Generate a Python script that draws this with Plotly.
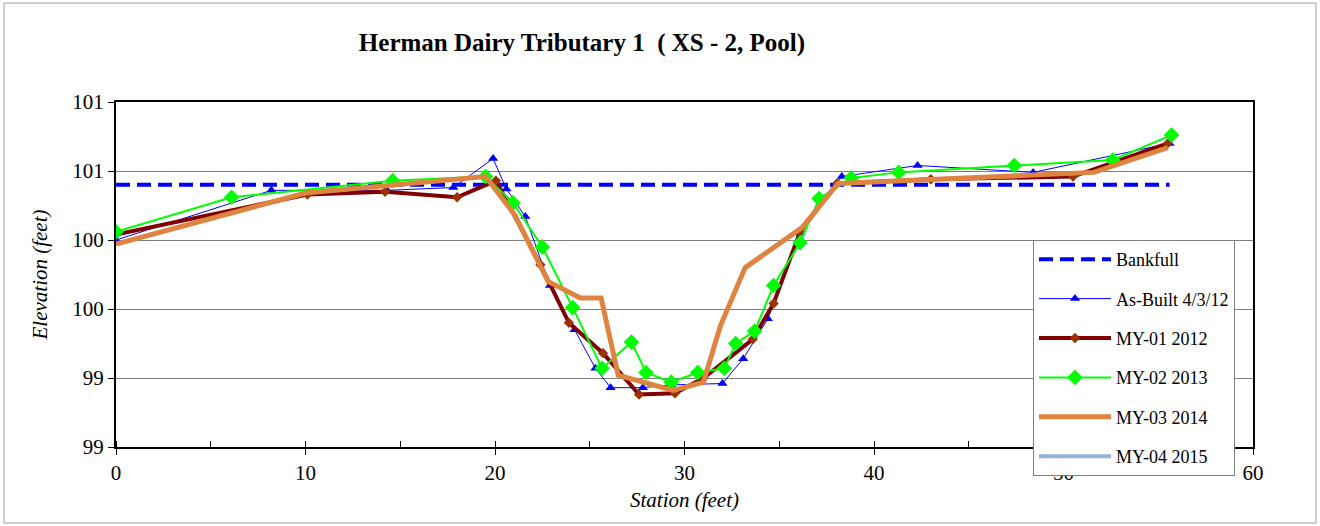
import plotly.graph_objects as go

# ---------------- data ----------------
bankfull_station = [0, 55.6]
bankfull_elev = [100.40, 100.40]

asbuilt_station = [0, 8.2, 14.3, 17.8, 19.9, 20.6, 21.6, 22.9, 24.2, 25.3, 26.1, 27.8, 29.3,
                   32.0, 33.1, 34.4, 36.1, 38.3, 42.3, 48.4, 55.6]
asbuilt_elev = [100.00, 100.36, 100.36, 100.38, 100.59, 100.37, 100.17, 99.67, 99.35, 99.07,
                98.93, 98.93, 98.95, 98.96, 99.14, 99.43, 100.05, 100.46, 100.54, 100.49, 100.70]

my01_station = [0, 10.1, 14.2, 18.0, 20.05, 20.6, 22.4, 23.9, 25.7, 27.6, 29.5, 31.0, 33.6,
                34.7, 36.1, 38.05, 43.0, 50.5, 55.5]
my01_elev = [100.04, 100.33, 100.35, 100.31, 100.43, 100.29, 99.82, 99.40, 99.18, 98.88,
             98.89, 99.00, 99.28, 99.54, 100.06, 100.41, 100.44, 100.46, 100.70]

my02_station = [0, 6.1, 14.6, 19.5, 20.95, 22.5, 24.1, 25.65, 27.2, 27.97, 29.3, 30.7, 32.1,
                32.7, 33.7, 34.7, 36.1, 37.1, 38.8, 41.3, 47.4, 52.6, 55.7]
my02_elev = [100.06, 100.31, 100.43, 100.46, 100.27, 99.95, 99.51, 99.07, 99.26, 99.04, 98.97,
             99.04, 99.07, 99.25, 99.34, 99.67, 99.98, 100.30, 100.45, 100.49, 100.54, 100.58,
             100.76]

my03_station = [0, 10.0, 19.5, 21.05, 22.8, 24.5, 25.6, 26.5, 29.4, 31.0, 31.9, 33.2, 36.2,
                38.1, 51.6, 55.5]
my03_elev = [99.97, 100.34, 100.46, 100.18, 99.70, 99.58, 99.58, 99.02, 98.91, 98.97, 99.38,
             99.80, 100.09, 100.41, 100.49, 100.67]

my04_station = [None]
my04_elev = [None]

y_tickvals = [98.5, 99.0, 99.5, 100.0, 100.5, 101.0]
y_ticktext = ["99", "99", "100", "100", "101", "101"]
x_tickvals = [0, 10, 20, 30, 40, 50, 60]

FONT = "Liberation Serif, Times New Roman, serif"

fig = go.Figure()

fig.add_trace(go.Scatter(x=bankfull_station, y=bankfull_elev, name="Bankfull", mode="lines",
                         legendgroup="a",
                         line=dict(color="#0000FF", width=4, dash="14px,7px")))
fig.add_trace(go.Scatter(x=asbuilt_station, y=asbuilt_elev, name="As-Built 4/3/12",
                         mode="lines+markers", legendgroup="b",
                         line=dict(color="#0000FF", width=1),
                         marker=dict(symbol="triangle-up", size=9, color="#0000FF")))
fig.add_trace(go.Scatter(x=my01_station, y=my01_elev, name="MY-01 2012",
                         mode="lines+markers", legendgroup="c",
                         line=dict(color="#800000", width=4),
                         marker=dict(symbol="diamond", size=8, color="#993300")))
fig.add_trace(go.Scatter(x=my02_station, y=my02_elev, name="MY-02 2013",
                         mode="lines+markers", legendgroup="d",
                         line=dict(color="#00FF00", width=2),
                         marker=dict(symbol="diamond", size=12, color="#00FF00")))
fig.add_trace(go.Scatter(x=my03_station, y=my03_elev, name="MY-03 2014",
                         mode="lines", legendgroup="e",
                         line=dict(color="#DE8440", width=5)))
fig.add_trace(go.Scatter(x=my04_station, y=my04_elev, name="MY-04 2015",
                         mode="lines", legendgroup="f",
                         line=dict(color="#95B3D7", width=4)))

L, R, T, B = 116, 67, 102, 79
W, H = 1320, 526
pw, ph = W - L - R, H - T - B

def px2paper_x(px):
    return (px - L) / pw

def px2paper_y(py):
    return (H - B - py) / ph

fig.update_layout(
    width=W, height=H,
    margin=dict(l=L, r=R, t=T, b=B, autoexpand=False),
    paper_bgcolor="white", plot_bgcolor="white",
    font=dict(family=FONT, size=21, color="black"),
    title=dict(text="<b>Herman Dairy Tributary 1  ( XS - 2, Pool)</b>",
               x=582 / W, xanchor="center", xref="container",
               y=1 - 42 / H, yanchor="middle", yref="container",
               font=dict(family=FONT, size=25, color="black")),
    showlegend=True,
    legend=dict(x=px2paper_x(1033), y=px2paper_y(240), xanchor="left", yanchor="top",
                bgcolor="white", bordercolor="#808080", borderwidth=1,
                font=dict(family=FONT, size=18, color="black"),
                traceorder="grouped", tracegroupgap=13,
                itemwidth=72),
    xaxis=dict(range=[0, 60], tickvals=x_tickvals, showgrid=False, zeroline=False,
               showline=True, linecolor="black", linewidth=2, mirror=True,
               ticks="outside", ticklen=6, tickcolor="black", tickwidth=1,
               minor=dict(dtick=5, ticks="inside", ticklen=6, tickcolor="black"),
               tickfont=dict(family=FONT, size=21),
               title=dict(text="<i>Station (feet)</i>", standoff=8,
                          font=dict(family=FONT, size=21))),
    yaxis=dict(range=[98.5, 101.0], tickvals=y_tickvals, ticktext=y_ticktext,
               showgrid=True, gridcolor="#7f7f7f", gridwidth=1, zeroline=False,
               showline=True, linecolor="black", linewidth=2, mirror=True,
               ticks="outside", ticklen=6, tickcolor="black",
               tickfont=dict(family=FONT, size=21),
               title=dict(text="<i>Elevation (feet)</i>", standoff=19,
                          font=dict(family=FONT, size=21))),
    shapes=[dict(type="rect", xref="paper", yref="paper",
                 x0=px2paper_x(4), x1=px2paper_x(1316),
                 y0=px2paper_y(523), y1=px2paper_y(3),
                 line=dict(color="#a0a0a0", width=1), layer="below")],
)

fig.write_html("out.html")
